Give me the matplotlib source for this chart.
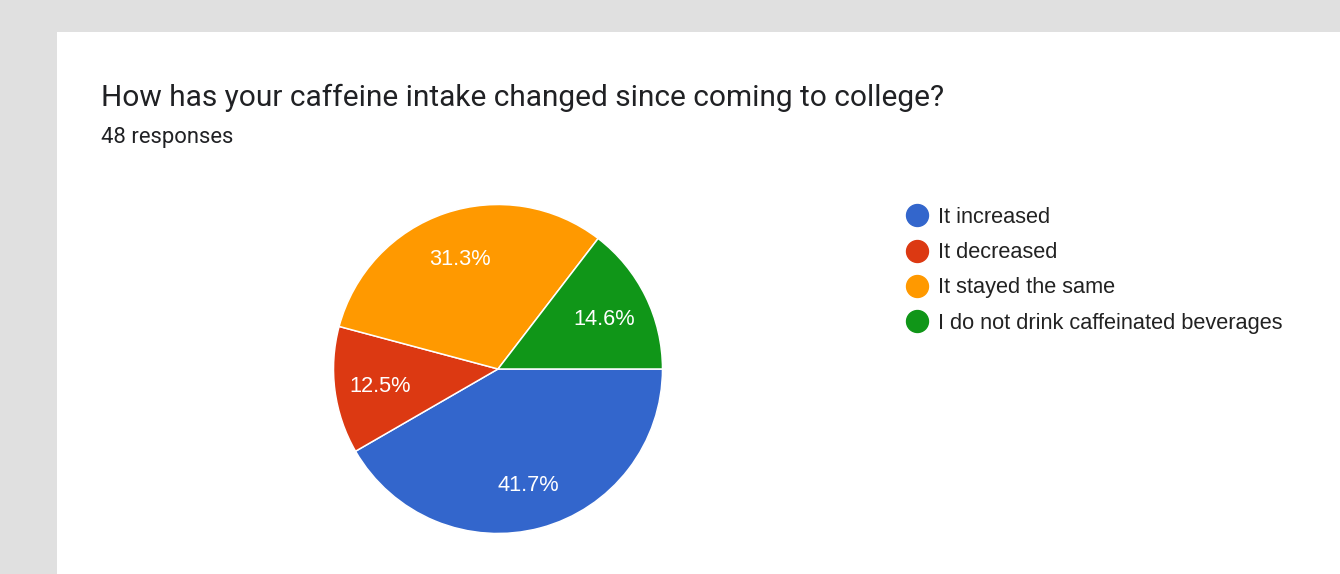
import math
import matplotlib.pyplot as plt
from matplotlib.lines import Line2D
from matplotlib.patches import Rectangle

# survey answers
labels = ["It increased", "It decreased", "It stayed the same",
          "I do not drink caffeinated beverages"]
counts = [20, 6, 15, 7]
colors = ["#3366cc", "#dc3912", "#ff9900", "#109618"]
title = "How has your caffeine intake changed since coming to college?"
n_resp = sum(counts)


def pct_label(p):
    # round half up, so 31.25 -> 31.3
    return f"{math.floor(p * 10 + 0.5 + 1e-9) / 10:.1f}%"


W, H = 1340, 574
fig = plt.figure(figsize=(W / 100, H / 100), dpi=100)
fig.patch.set_facecolor("#e0e0e0")

# white card
fig.add_artist(Rectangle((57 / W, 0), 1, 1 - 32 / H, transform=fig.transFigure,
                         facecolor="white", edgecolor="none", zorder=0))

fig.text(101 / W, 1 - 106 / H, title, fontsize=21.5, family="Roboto",
         color="#202124", va="baseline")
fig.text(101 / W, 1 - 143 / H, f"{n_resp} responses", fontsize=15.8,
         family="Roboto", color="#202124", va="baseline")

# pie
cx, cy, r = 498, 369, 164.5
ax = fig.add_axes([(cx - r) / W, (H - cy - r) / H, 2 * r / W, 2 * r / H])
wedges, _, autotexts = ax.pie(
    counts, colors=colors, startangle=0, counterclock=False,
    autopct=pct_label, pctdistance=0.72, radius=1,
    wedgeprops=dict(edgecolor="white", linewidth=1.1),
    textprops=dict(color="white", fontsize=15.7, family="Liberation Sans"))
for t in autotexts:
    t.set_va("center_baseline")
ax.set_xlim(-1, 1)
ax.set_ylim(-1, 1)
ax.set_aspect("equal")
ax.axis("off")

# legend
handles = [Line2D([], [], marker="o", linestyle="none", markersize=15.8,
                  markerfacecolor=c, markeredgecolor=c) for c in colors]
leg = fig.legend(handles, labels, loc="upper left",
                 bbox_to_anchor=(906 / W, 1 - 207 / H), bbox_transform=fig.transFigure,
                 frameon=False, borderpad=0, borderaxespad=0, handlelength=1.0,
                 handletextpad=0.47, labelspacing=0.65,
                 prop=dict(family="Liberation Sans", size=15.7))
for t in leg.get_texts():
    t.set_color("#222222")

fig.savefig("out.png", dpi=100, facecolor=fig.get_facecolor())
